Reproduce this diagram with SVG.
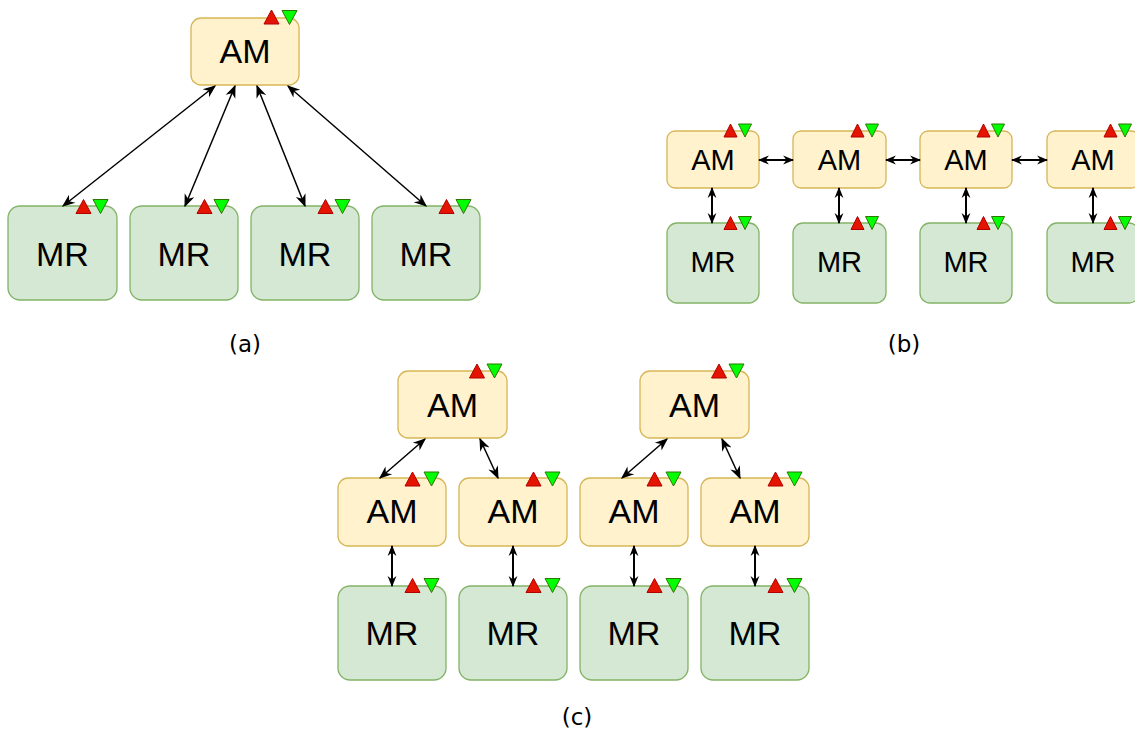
<svg xmlns="http://www.w3.org/2000/svg" width="1135" height="738" viewBox="0 0 1135 738">
<style>
.am{fill:#fff2cc;stroke:#d6b656;stroke-width:1.3}
.mr{fill:#d5e8d4;stroke:#82b366;stroke-width:1.3}
.t{font-family:"Liberation Sans",Arial,sans-serif;text-anchor:middle;fill:#000}
.big{font-size:34px}
.sm{font-size:29px}
.lbl{font-family:"DejaVu Sans",sans-serif;font-size:23px;text-anchor:middle;fill:#000}
.up{fill:#e51400;stroke:#b20000;stroke-width:1}
.dn{fill:#00ff00;stroke:#2d7600;stroke-width:1}
.c{stroke:#000;stroke-width:1.5;fill:none;marker-start:url(#ah);marker-end:url(#ah)}
.cb{stroke:#000;stroke-width:2;fill:none;marker-start:url(#ahb);marker-end:url(#ahb)}
</style>
<defs>
<marker id="ah" viewBox="0 0 10 10" refX="9" refY="5" markerWidth="13" markerHeight="13" markerUnits="userSpaceOnUse" orient="auto-start-reverse">
<path d="M0,1 L10,5 L0,9 L3,5 z" fill="#000"/>
</marker>
<marker id="ahb" viewBox="0 0 10 10" refX="9" refY="5" markerWidth="11" markerHeight="11" markerUnits="userSpaceOnUse" orient="auto-start-reverse">
<path d="M0,1 L10,5 L0,9 L3,5 z" fill="#000"/>
</marker>
<polygon id="tu" points="0,-7 7.5,7 -7.5,7"/>
<polygon id="td" points="-7.5,-7 7.5,-7 0,7"/>
<polygon id="tus" points="0,-6.5 6.5,6.5 -6.5,6.5"/>
<polygon id="tds" points="-6.5,-6.5 6.5,-6.5 0,6.5"/>
</defs>

<!-- Panel (a) -->
<g id="a-am">
<rect class="am" x="191" y="18" width="108" height="67" rx="10"/>
<text class="t big" x="245" y="63">AM</text>
<use href="#tu" class="up" x="271.5" y="17"/>
<use href="#td" class="dn" x="289.5" y="17.5"/>
</g>
<g id="a-mr1">
<rect class="mr" x="8" y="206" width="109" height="94" rx="12"/>
<text class="t big" x="62.5" y="266">MR</text>
<use href="#tu" class="up" x="83.5" y="206.5"/>
<use href="#td" class="dn" x="100.5" y="206.5"/>
</g>
<g id="a-mr2">
<rect class="mr" x="130" y="206" width="108" height="94" rx="12"/>
<text class="t big" x="184" y="266">MR</text>
<use href="#tu" class="up" x="204.5" y="206.5"/>
<use href="#td" class="dn" x="221.5" y="206.5"/>
</g>
<g id="a-mr3">
<rect class="mr" x="251" y="206" width="108" height="94" rx="12"/>
<text class="t big" x="305" y="266">MR</text>
<use href="#tu" class="up" x="325.5" y="206.5"/>
<use href="#td" class="dn" x="342.5" y="206.5"/>
</g>
<g id="a-mr4">
<rect class="mr" x="372" y="206" width="108" height="94" rx="12"/>
<text class="t big" x="426" y="266">MR</text>
<use href="#tu" class="up" x="446.5" y="206.5"/>
<use href="#td" class="dn" x="463.5" y="206.5"/>
</g>

<!-- Panel (b) -->
<g id="b-am1">
<rect class="am" x="667" y="131" width="92" height="57" rx="8"/>
<text class="t sm" x="713" y="170">AM</text>
<use href="#tus" class="up" x="730.5" y="130.5"/>
<use href="#tds" class="dn" x="745" y="130.5"/>
</g>
<g id="b-am2">
<rect class="am" x="793" y="131" width="93" height="57" rx="8"/>
<text class="t sm" x="839.5" y="170">AM</text>
<use href="#tus" class="up" x="857.5" y="130.5"/>
<use href="#tds" class="dn" x="872" y="130.5"/>
</g>
<g id="b-am3">
<rect class="am" x="920" y="131" width="92" height="57" rx="8"/>
<text class="t sm" x="966" y="170">AM</text>
<use href="#tus" class="up" x="983.5" y="130.5"/>
<use href="#tds" class="dn" x="998" y="130.5"/>
</g>
<g id="b-am4">
<rect class="am" x="1047" y="131" width="92" height="57" rx="8"/>
<text class="t sm" x="1093" y="170">AM</text>
<use href="#tus" class="up" x="1110.5" y="130.5"/>
<use href="#tds" class="dn" x="1125" y="130.5"/>
</g>
<g id="b-mr1">
<rect class="mr" x="667" y="223" width="92" height="80" rx="10"/>
<text class="t sm" x="713" y="272">MR</text>
<use href="#tus" class="up" x="730.5" y="223"/>
<use href="#tds" class="dn" x="745" y="223"/>
</g>
<g id="b-mr2">
<rect class="mr" x="793" y="223" width="93" height="80" rx="10"/>
<text class="t sm" x="839.5" y="272">MR</text>
<use href="#tus" class="up" x="857.5" y="223"/>
<use href="#tds" class="dn" x="872" y="223"/>
</g>
<g id="b-mr3">
<rect class="mr" x="920" y="223" width="92" height="80" rx="10"/>
<text class="t sm" x="966" y="272">MR</text>
<use href="#tus" class="up" x="983.5" y="223"/>
<use href="#tds" class="dn" x="998" y="223"/>
</g>
<g id="b-mr4">
<rect class="mr" x="1047" y="223" width="92" height="80" rx="10"/>
<text class="t sm" x="1093" y="272">MR</text>
<use href="#tus" class="up" x="1110.5" y="223"/>
<use href="#tds" class="dn" x="1125" y="223"/>
</g>

<!-- Panel (c) -->
<g id="c-am-top1">
<rect class="am" x="398" y="371" width="109" height="67" rx="10"/>
<text class="t big" x="452.5" y="417">AM</text>
<use href="#tu" class="up" x="477" y="371"/>
<use href="#td" class="dn" x="494.5" y="371"/>
</g>
<g id="c-am-top2">
<rect class="am" x="640" y="371" width="109" height="67" rx="10"/>
<text class="t big" x="694.5" y="417">AM</text>
<use href="#tu" class="up" x="719" y="371"/>
<use href="#td" class="dn" x="736.5" y="371"/>
</g>
<g id="c-am1">
<rect class="am" x="338" y="478" width="108" height="68" rx="10"/>
<text class="t big" x="392" y="523">AM</text>
<use href="#tu" class="up" x="412.5" y="479"/>
<use href="#td" class="dn" x="431.5" y="479"/>
</g>
<g id="c-am2">
<rect class="am" x="459" y="478" width="108" height="68" rx="10"/>
<text class="t big" x="513" y="523">AM</text>
<use href="#tu" class="up" x="533.5" y="479"/>
<use href="#td" class="dn" x="552.5" y="479"/>
</g>
<g id="c-am3">
<rect class="am" x="580" y="478" width="108" height="68" rx="10"/>
<text class="t big" x="634" y="523">AM</text>
<use href="#tu" class="up" x="654.5" y="479"/>
<use href="#td" class="dn" x="673.5" y="479"/>
</g>
<g id="c-am4">
<rect class="am" x="701" y="478" width="108" height="68" rx="10"/>
<text class="t big" x="755" y="523">AM</text>
<use href="#tu" class="up" x="775.5" y="479"/>
<use href="#td" class="dn" x="794.5" y="479"/>
</g>
<g id="c-mr1">
<rect class="mr" x="338" y="586" width="108" height="94" rx="12"/>
<text class="t big" x="392" y="645">MR</text>
<use href="#tu" class="up" x="412.5" y="585.5"/>
<use href="#td" class="dn" x="431.5" y="585.5"/>
</g>
<g id="c-mr2">
<rect class="mr" x="459" y="586" width="108" height="94" rx="12"/>
<text class="t big" x="513" y="645">MR</text>
<use href="#tu" class="up" x="533.5" y="585.5"/>
<use href="#td" class="dn" x="552.5" y="585.5"/>
</g>
<g id="c-mr3">
<rect class="mr" x="580" y="586" width="108" height="94" rx="12"/>
<text class="t big" x="634" y="645">MR</text>
<use href="#tu" class="up" x="654.5" y="585.5"/>
<use href="#td" class="dn" x="673.5" y="585.5"/>
</g>
<g id="c-mr4">
<rect class="mr" x="701" y="586" width="108" height="94" rx="12"/>
<text class="t big" x="755" y="645">MR</text>
<use href="#tu" class="up" x="775.5" y="585.5"/>
<use href="#td" class="dn" x="794.5" y="585.5"/>
</g>

<g id="connectors">
<line class="c" x1="215" y1="86" x2="63" y2="206"/>
<line class="c" x1="235" y1="86" x2="185" y2="206"/>
<line class="c" x1="257" y1="86" x2="305" y2="206"/>
<line class="c" x1="288" y1="86" x2="426" y2="206"/>

<line class="cb" x1="759" y1="160" x2="793" y2="160"/>
<line class="cb" x1="886" y1="160" x2="920" y2="160"/>
<line class="cb" x1="1012" y1="160" x2="1047" y2="160"/>
<line class="cb" x1="712" y1="188" x2="712" y2="223"/>
<line class="cb" x1="839" y1="188" x2="839" y2="223"/>
<line class="cb" x1="966" y1="188" x2="966" y2="223"/>
<line class="cb" x1="1093" y1="188" x2="1093" y2="223"/>

<line class="c" x1="425" y1="439" x2="380" y2="478"/>
<line class="c" x1="480" y1="439" x2="498" y2="478"/>
<line class="c" x1="667" y1="439" x2="622" y2="478"/>
<line class="c" x1="722" y1="439" x2="740" y2="478"/>
<line class="cb" x1="392" y1="546" x2="392" y2="586"/>
<line class="cb" x1="513" y1="546" x2="513" y2="586"/>
<line class="cb" x1="634" y1="546" x2="634" y2="586"/>
<line class="cb" x1="755" y1="546" x2="755" y2="586"/>
</g>

<g id="labels">
<text class="lbl" x="245" y="352">(a)</text>
<text class="lbl" x="904" y="352">(b)</text>
<text class="lbl" x="577" y="725">(c)</text>
</g>
</svg>
